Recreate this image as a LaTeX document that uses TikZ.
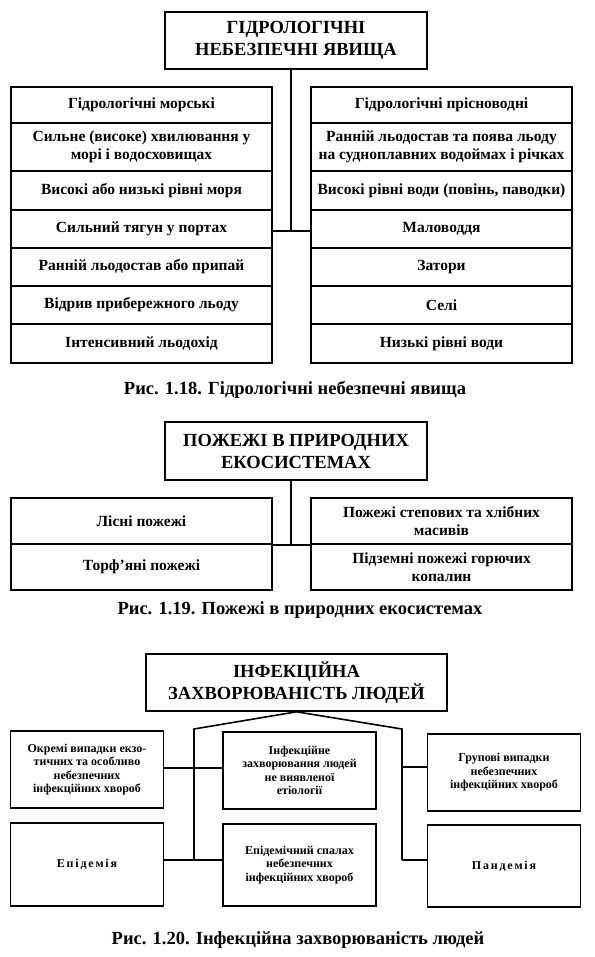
\documentclass[tikz,border=0pt]{standalone}
\usepackage{fontspec}
\setmainfont{Liberation Serif}
\usetikzlibrary{positioning}

\begin{document}
\begin{tikzpicture}[x=1pt, y=-1pt, every node/.style={align=center}]
\tikzset{
  box/.style={
    rectangle, draw=black, line width=1.6pt, inner sep=2pt,
    font=\bfseries\fontsize{15.5}{18}\selectfont
  },
  headbox/.style={box, font=\bfseries\fontsize{18.5}{22}\selectfont},
  smallbox/.style={box, minimum width=153pt, font=\bfseries\fontsize{12}{13.5}\selectfont},
  caption/.style={font=\bfseries\fontsize{18.5}{21}\selectfont},
  link/.style={line width=1.6pt}
}
\useasboundingbox (0,0) rectangle (594,957);

% Fig. 1.18
\node (hydro) [headbox, minimum width=262pt, minimum height=57pt] at (296,40.5) {ГІДРОЛОГІЧНІ\\НЕБЕЗПЕЧНІ ЯВИЩА};

\foreach \sea/\fresh/\ymid/\rowh [count=\i] in {
  {Гідрологічні морські}/{Гідрологічні прісноводні}/105/36,
  {Сильне (високе) хвилювання у\\морі і водосховищах}/{Ранній льодостав та поява льоду\\на судноплавних водоймах і річках}/147/48,
  {Високі або низькі рівні моря}/{Високі рівні води (повінь, паводки)}/190.5/39,
  {Сильний тягун у портах}/{Маловоддя}/229/38,
  {Ранній льодостав або припай}/{Затори}/267/38,
  {Відрив прибережного льоду}/{Селі}/305/38,
  {Інтенсивний льодохід}/{Низькі рівні води}/343.5/39}
{
  \node (sea\i) [box, minimum width=261pt, minimum height=\rowh pt] at (141.5,\ymid) {\sea};
  \node (fresh\i) [box, minimum width=261pt, minimum height=\rowh pt] at (441.5,\ymid) {\fresh};
}

\coordinate (hub1) at (291,231);
\draw [link] (hydro.south -| hub1) -- (hub1);
\draw [link] (sea4.east |- hub1) -- (fresh4.west |- hub1);

\node (cap1) [caption] at (295,390) {Рис. 1.18. Гідрологічні небезпечні явища};

% Fig. 1.19
\node (fires) [headbox, minimum width=262pt, minimum height=58pt] at (296,451) {ПОЖЕЖІ В ПРИРОДНИХ\\ЕКОСИСТЕМАХ};

\node (forest) [box, minimum width=261pt, minimum height=46pt] at (141.5,521) {Лісні пожежі};
\node (peat) [box, minimum width=261pt, minimum height=46pt] at (141.5,567) {Торф’яні пожежі};
\node (steppe) [box, minimum width=261pt, minimum height=46pt] at (441.5,521) {Пожежі степових та хлібних\\масивів};
\node (under) [box, minimum width=261pt, minimum height=46pt] at (441.5,567) {Підземні пожежі горючих\\копалин};

\coordinate (hub2) at (291,544);
\draw [link] (fires.south -| hub2) -- (hub2);
\draw [link] (forest.south east) -- (steppe.south west);

\node (cap2) [caption] at (300,610) {Рис. 1.19. Пожежі в природних екосистемах};

% Fig. 1.20
\node (infect) [headbox, minimum width=301pt, minimum height=57pt] at (296.5,682.5) {ІНФЕКЦІЙНА\\ЗАХВОРЮВАНІСТЬ ЛЮДЕЙ};

\node (single) [smallbox, minimum height=77pt] at (87,769.5) {Окремі випадки екзо-\\тичних та особливо\\небезпечних\\інфекційних хвороб};
\node (unknown) [smallbox, minimum height=77pt] at (299.5,770.5) {Інфекційне\\захворювання людей\\не виявленої\\етіології};
\node (group) [smallbox, minimum height=77pt] at (504,772.5) {Групові випадки\\небезпечних\\інфекційних хвороб};
\node (epidemic) [smallbox, minimum height=83pt] at (87,864.5) {\addfontfeature{LetterSpace=15}Епідемія};
\node (outbreak) [smallbox, minimum height=82pt] at (299.5,865) {Епідемічний спалах\\небезпечних\\інфекційних хвороб};
\node (pandemic) [smallbox, minimum height=82pt] at (504,866) {\addfontfeature{LetterSpace=15}Пандемія};

\coordinate (forkL) at (194,729);
\coordinate (forkR) at (402,729);
\coordinate (lowL) at (194,860);
\coordinate (lowR) at (402,860);
\coordinate (midR) at (402,767);
\draw [link] (infect.south) -- (forkL) -- (lowL);
\draw [link] (infect.south) -- (forkR) -- (lowR);
\draw [link] (single.east |- 0,768) -- (unknown.west |- 0,768);
\draw [link] (epidemic.east |- lowL) -- (outbreak.west |- lowL);
\draw [link] (midR) -- (group.west |- midR);
\draw [link] (lowR) -- (pandemic.west |- lowR);

\node (cap3) [caption] at (298,940) {Рис. 1.20. Інфекційна захворюваність людей};
\end{tikzpicture}
\end{document}
